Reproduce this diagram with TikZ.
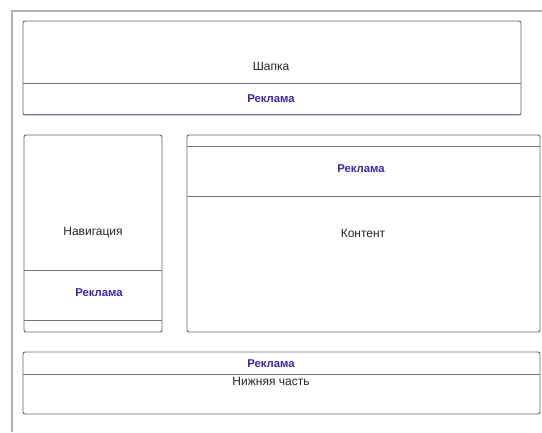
\documentclass[tikz,border=0pt]{standalone}
\usepackage{fontspec}
\setmainfont{Liberation Sans}
\definecolor{violaPub}{RGB}{58,42,170}
\tikzset{
  blocco/.style={draw=black!60, line width=0.7pt, rounded corners=1.5pt},
  riga/.style={draw=black!55, line width=0.6pt},
  testo/.style={font=\fontsize{9}{10}\selectfont, text=black!85},
  pubblicita/.style={font=\fontsize{8.5}{10}\selectfont\bfseries, text=violaPub}
}
\begin{document}
\begin{tikzpicture}[x=0.75pt, y=-0.75pt]
        \useasboundingbox (0,0) rectangle (542,432);
        \fill[white] (0,0) rectangle (542,432);

        %%%%%%%%%% Cornice %%%%%%%%%%
        \draw[black!30, line width=0.8pt] (12,432) -- (12,11) -- (542,11);

        %%%%%%%%%% Blocchi %%%%%%%%%%
        \draw[blocco] (23,21) rectangle (521,115);
        \draw[blocco] (24,135) rectangle (162,332);
        \draw[blocco] (187,135) rectangle (540,332);
        \draw[blocco] (23,352) rectangle (540,414);

        %%%%%%%%% Divisori %%%%%%%%%
        \draw[riga] (23,83) -- (521,83);
        \draw[violaPub!50!black!60, line width=0.9pt] (24,114.5) -- (520,114.5);
        \draw[riga] (24,270) -- (162,270);
        \draw[riga] (24,320) -- (162,320);
        \draw[riga] (187,146) -- (540,146);
        \draw[riga] (187,196) -- (540,196);
        \draw[riga] (23,374) -- (540,374);

        %%%%%%%%%% Testi %%%%%%%%%%
        \node[testo] (shapka) at (271,66) {Шапка};
        \node[pubblicita] (reklama1) at (271,99) {Реклама};
        \node[testo] (navigacija) at (93,233) {Навигация};
        \node[pubblicita] (reklama2) at (99,293) {Реклама};
        \node[pubblicita] (reklama3) at (361,169) {Реклама};
        \node[testo] (kontent) at (363,233) {Контент};
        \node[pubblicita] (reklama4) at (271,364) {Реклама};
        \node[testo] (nizhnjaja) at (271,381) {Нижняя часть};
    \end{tikzpicture}
\end{document}
